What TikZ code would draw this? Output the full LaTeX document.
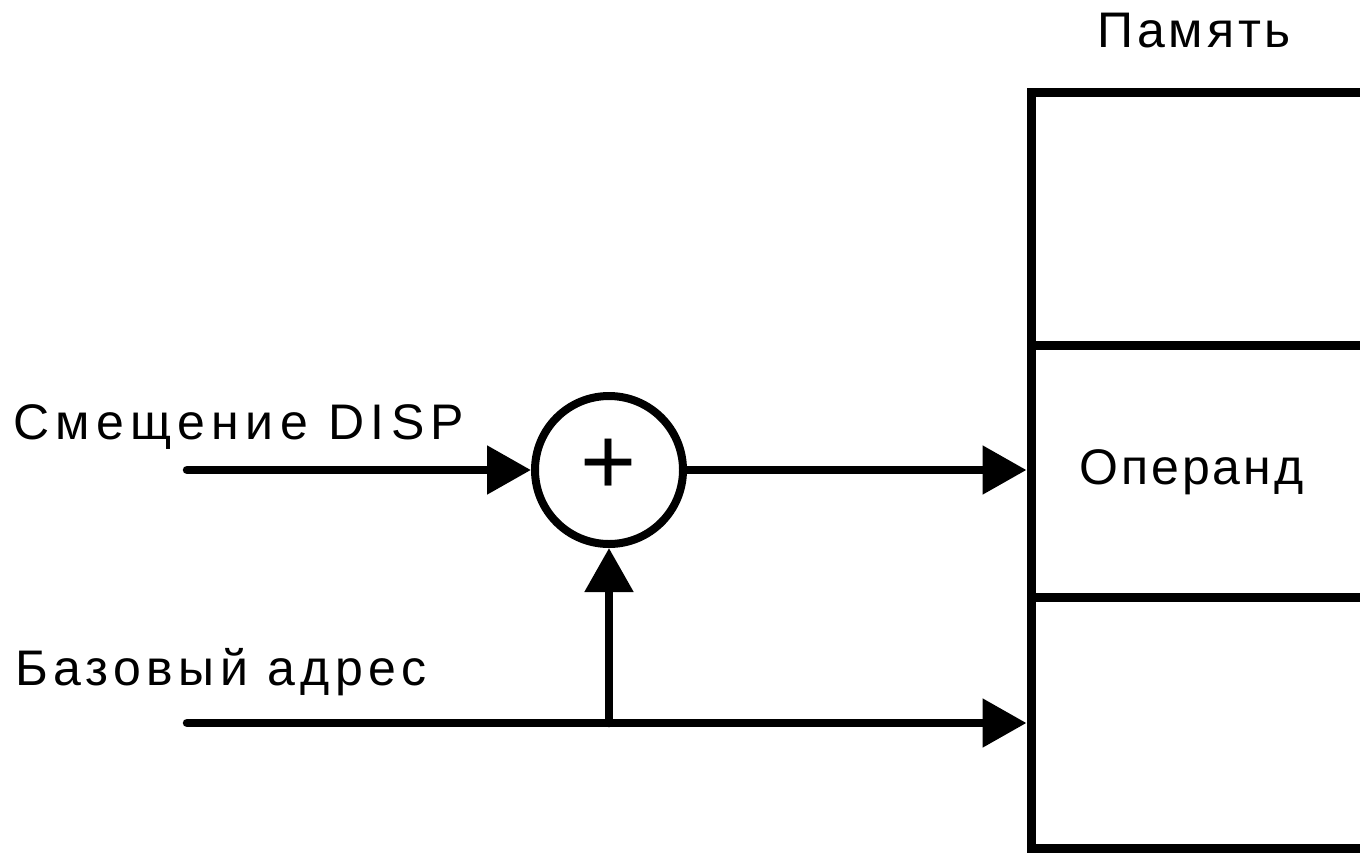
\documentclass[tikz,border=0pt]{standalone}
\usepackage{fontspec}
\setmainfont{Liberation Sans}
\usetikzlibrary{arrows.meta}
\begin{document}
\begin{tikzpicture}[x=1pt,y=-1pt,
  wire/.style={line width=8.5pt,line cap=round},
  arr/.style={wire,-{Triangle[length=44pt,width=47pt]}},
  cell/.style={draw,line width=9pt,rectangle,minimum width=420pt,inner sep=0pt,anchor=north west},
  lbl/.style={font=\addfontfeatures{LetterSpace=#1}\fontsize{50}{60}\selectfont,inner sep=0pt,anchor=base west},
  sum/.style={draw,circle,line width=8pt,minimum size=148pt,inner sep=0pt}]
\useasboundingbox (0,0) rectangle (1360,852);
\clip (0,0) rectangle (1360,852);
\node[cell,minimum height=253pt] (c1) at (1026.5,87.5) {};
\node[cell,minimum height=252pt] (c2) at (1026.5,340.5) {};
\node[cell,minimum height=251pt] (c3) at (1026.5,592.5) {};
\node[sum] (s) at (609,470) {};
\node[font=\fontsize{96}{100}\selectfont,inner sep=0pt] (plus) at (609,467) {+};
\node[lbl=12.8] (t1) at (13,439) {Смещение DISP};
\node[lbl=10.8] (t2) at (15,685) {Базовый адрес};
\node[lbl=6] (t3) at (1079,484) {Операнд};
\node[lbl=7.8] (t4) at (1097,47) {Память};
\coordinate (a0) at (187,470);
\coordinate (b0) at (187,723);
\coordinate (bj) at (609,723);
\draw[arr] (a0) -- (s.west);
\draw[arr] (s.east) -- (s.east -| c2.west);
\draw[arr] (b0) -- (b0 -| c3.west);
\draw[arr] (bj) -- (s.south);
\end{tikzpicture}
\end{document}
